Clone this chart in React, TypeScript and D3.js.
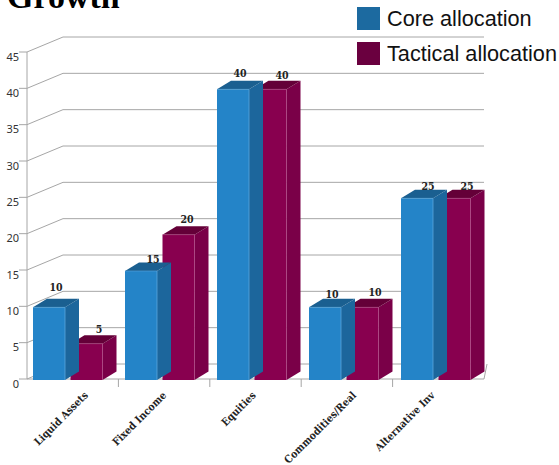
import React from "react";
import * as d3 from "d3";

const categories = ["Liquid Assets", "Fixed Income", "Equities", "Commodities/Real", "Alternative Inv"];
const coreValues = [10, 15, 40, 10, 25];
const tacticalValues = [5, 20, 40, 10, 25];
const yTicks = [0, 5, 10, 15, 20, 25, 30, 35, 40, 45];
const legendLabels = ["Core allocation", "Tactical allocation"];

const W = 559;
const H = 465;
const SERIF = "'DejaVu Serif Condensed', 'DejaVu Serif', 'Liberation Serif', serif";

// Projection of the 3D box: the back wall sits up and to the right of the front plane.
const wallDx = 36;
const wallDy = 15;
const barDx = 14;
const barDy = 8.5;
const barWidth = 32;

// The axis ticks and the bar slots use slightly different widths along the floor.
const x = d3.scaleBand<string>().domain(categories).range([27, 484]);
const xBars = d3.scaleBand<string>().domain(categories).range([27, 487]);
const y = d3.scaleLinear().domain([0, 45]).range([379, 52]);

const gridColor = "#a6a6a6";

type Palette = { front: string; side: string; top: string; edge: string };
const corePalette: Palette = { front: "#2484c8", side: "#1c669c", top: "#1a5f90", edge: "#5aa6dc" };
const tacticalPalette: Palette = { front: "#88004f", side: "#7a0048", top: "#640038", edge: "#b04a86" };

// Bar offsets inside a slot, and small shifts for the value labels.
const coreOffset = 6;
const tacticalOffset = 43.5;
const coreLabelShift = [7, 12, 7, 7, 11];
const tacticalLabelShift = [12.5, 8.5, 11.5, 12.5, 12.5];
const coreLabelRise = [15.3, 7, 11.3, 8.3, 7.2];
const tacticalLabelRise = [9.7, 10.7, 9.3, 10.3, 7.2];
const categoryLabelShift = [16, 3, 1, 10, -3];

function Bar({ x0, value, palette }: { x0: number; value: number; palette: Palette }) {
  const top = y(value) + 1;
  const base = y(0) + 1;
  const x1 = x0 + barWidth;
  const line = d3.line();
  const frontPath = line([[x0, top], [x1, top], [x1, base], [x0, base]]) + "Z";
  const sidePath = line([[x1, top], [x1 + barDx, top - barDy], [x1 + barDx, base - barDy], [x1, base]]) + "Z";
  const topPath = line([[x0, top], [x0 + barDx, top - barDy], [x1 + barDx, top - barDy], [x1, top]]) + "Z";
  return (
    <g>
      <path d={frontPath} fill={palette.front} />
      <path d={sidePath} fill={palette.side} />
      <path d={topPath} fill={palette.top} />
      <path d={line([[x1, top], [x1, base]]) ?? ""} stroke={palette.edge} strokeWidth={0.8} fill="none" />
      <path d={line([[x0, top], [x1, top]]) ?? ""} stroke={palette.edge} strokeWidth={0.6} fill="none" />
    </g>
  );
}

export default function App() {
  const xRange = x.range();
  return (
    <svg width={W} height={H} viewBox={`0 0 ${W} ${H}`} style={{ position: "absolute", left: 0, top: 0, background: "#fff" }}>
      <text x={7} y={8} fontFamily="'Liberation Serif', serif" fontWeight="bold" fontSize={34} fill="#000">Growth</text>

      {/* Walls and gridlines */}
      {yTicks.map((t) => (
        <g key={t} stroke={gridColor} fill="none" strokeWidth={1}>
          <path d={`M${xRange[0] - 8},${y(t)}H${xRange[0]}L${xRange[0] + wallDx},${y(t) - wallDy}H${xRange[1]}`} />
        </g>
      ))}
      <path d={`M27,${y(45)}V${y(0)}H${xRange[1]}L${xRange[1] + 3},${y(0) - wallDy}`} stroke={gridColor} fill="none" />
      {categories.map((c, i) => (
        <path key={c} d={`M${(x(c) ?? 0) + x.bandwidth()},${y(0)}v8`} stroke={gridColor} fill="none" opacity={i === 4 ? 0 : 1} />
      ))}

      {yTicks.map((t) => (
        <text key={t} x={19} y={y(t) + 8.5} textAnchor="end" fontFamily="'Noto Sans', sans-serif" fontSize={11} fill="#333">{t}</text>
      ))}

      {/* Bars, tactical first so the core side face overlaps it */}
      {categories.map((c, i) => (
        <g key={c}>
          <Bar x0={(xBars(c) ?? 0) + tacticalOffset} value={tacticalValues[i]} palette={tacticalPalette} />
          <Bar x0={(xBars(c) ?? 0) + coreOffset} value={coreValues[i]} palette={corePalette} />
        </g>
      ))}

      {/* Value labels */}
      <g fontFamily={SERIF} fontWeight="bold" fontSize={10.5} fill="#222" textAnchor="middle">
        {categories.map((c, i) => (
          <g key={c}>
            <text x={(xBars(c) ?? 0) + coreOffset + barWidth / 2 + coreLabelShift[i]} y={y(coreValues[i]) - coreLabelRise[i]}>{coreValues[i]}</text>
            <text x={(xBars(c) ?? 0) + tacticalOffset + barWidth / 2 + tacticalLabelShift[i]} y={y(tacticalValues[i]) - tacticalLabelRise[i]}>{tacticalValues[i]}</text>
          </g>
        ))}
      </g>

      {/* Category labels */}
      {categories.map((c, i) => {
        const px = (x(c) ?? 0) + x.bandwidth() / 2 + categoryLabelShift[i];
        return (
          <text key={c} transform={`translate(${px},396) rotate(-45)`} textAnchor="end" fontFamily={SERIF} fontWeight="bold" fontSize={10.5} fill="#222">{c}</text>
        );
      })}

      {/* Legend */}
      {legendLabels.map((label, i) => (
        <g key={label} transform={`translate(357,${7 + i * 35})`}>
          <rect width={23} height={23} fill={i === 0 ? "#1c6aa0" : "#6a003f"} />
          <text x={30} y={19} fontFamily="'Liberation Sans', sans-serif" fontSize={21.7} fill="#111">{label}</text>
        </g>
      ))}
    </svg>
  );
}
